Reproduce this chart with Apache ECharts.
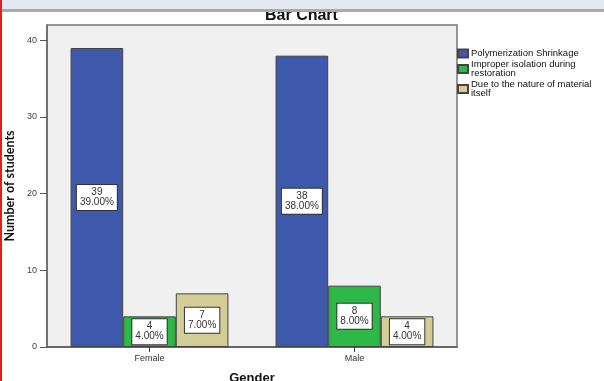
<!DOCTYPE html>
<html>
<head>
<meta charset="utf-8">
<script src="https://cdn.jsdelivr.net/npm/echarts@6/dist/echarts.min.js"></script>
<style>
  html, body { margin: 0; padding: 0; background: #ffffff; }
  #chart { width: 604px; height: 381px; }
</style>
</head>
<body>
<div id="chart"></div>
<script>
// Reasons for restoration failure, counted by gender
const categories = ['Female', 'Male'];
const seriesNames = [
  'Polymerization Shrinkage',
  'Improper isolation during\nrestoration',
  'Due to the nature of material\nitself'
];
const polymerization = [39, 38];
const improperIsolation = [4, 8];
const materialNature = [7, 4];
const yTicks = [0, 10, 20, 30, 40];

const barColors = ['#3e58ac', '#2eb848', '#d3ce97'];
const allValues = [polymerization, improperIsolation, materialNature];
const total = allValues.flat().reduce((a, b) => a + b, 0);

const chart = echarts.init(document.getElementById('chart'), null, { renderer: 'canvas' });

const labelStyle = {
  show: true,
  position: 'inside',
  formatter: p => p.value + '\n' + (p.value / total * 100).toFixed(2) + '%',
  backgroundColor: '#ffffff',
  borderColor: '#333333',
  borderWidth: 1,
  padding: [3, 3, 2, 3],
  color: '#333333',
  fontFamily: 'Arial, Liberation Sans, sans-serif',
  fontSize: 10,
  lineHeight: 10
};

const series = allValues.map((vals, i) => ({
  name: seriesNames[i],
  type: 'bar',
  data: vals,
  barGap: '0%',
  barCategoryGap: '23%',
  itemStyle: { color: barColors[i], borderColor: '#444444', borderWidth: 1 },
  label: labelStyle,
  emphasis: { disabled: true }
}));

chart.setOption({
  animation: false,
  backgroundColor: '#ffffff',
  title: {
    text: 'Bar Chart',
    left: 265,
    top: 8,
    padding: 0,
    textStyle: { fontFamily: 'Arial, Liberation Sans, sans-serif', fontWeight: 'bold', fontSize: 16, color: '#111111' }
  },
  legend: {
    orient: 'vertical',
    left: 457,
    top: 48.5,
    padding: 0,
    itemGap: 1,
    itemWidth: 10,
    itemHeight: 8,
    icon: 'rect',
    selectedMode: false,
    textStyle: { fontFamily: 'Arial, Liberation Sans, sans-serif', fontSize: 9.5, lineHeight: 9, color: '#111111', padding: [0, 0, 0, -2] },
    data: seriesNames
  },
  grid: {
    left: 47, right: 147, top: 25, bottom: 34,
    outerBoundsMode: 'none',
    containLabel: false,
    show: true,
    backgroundColor: '#f0f0f0',
    borderColor: '#777777',
    borderWidth: 1.5
  },
  xAxis: {
    type: 'category',
    data: categories,
    name: 'Gender',
    nameLocation: 'middle',
    nameGap: 25,
    nameTextStyle: { fontFamily: 'Arial, Liberation Sans, sans-serif', fontWeight: 'bold', fontSize: 13, color: '#111111' },
    axisLine: { show: true, lineStyle: { color: '#555555', width: 1.5 } },
    axisTick: { show: true, alignWithLabel: true, length: 5, lineStyle: { color: '#333333' } },
    axisLabel: { fontFamily: 'Arial, Liberation Sans, sans-serif', fontSize: 9, color: '#333333', margin: 7 }
  },
  yAxis: {
    type: 'value',
    min: 0,
    max: 42,
    interval: 10,
    name: 'Number of students',
    nameLocation: 'middle',
    nameGap: 29,
    nameTextStyle: { fontFamily: 'Lato, Open Sans, sans-serif', fontWeight: 'bold', fontSize: 12.5, color: '#111111' },
    axisLine: { show: true, lineStyle: { color: '#666666', width: 1.5 } },
    axisTick: { show: true, length: 7, lineStyle: { color: '#555555' }, customValues: yTicks },
    axisLabel: { fontFamily: 'Arial, Liberation Sans, sans-serif', fontSize: 9, color: '#444444', margin: 10, customValues: yTicks },
    splitLine: { show: false }
  },
  series: series,
  graphic: [
    { type: 'rect', z: 100, shape: { x: 0, y: 0, width: 604, height: 9 }, style: { fill: '#e4e9f1' } },
    { type: 'rect', z: 100, shape: { x: 0, y: 9, width: 604, height: 3 }, style: { fill: '#a8aaad' } },
    { type: 'rect', z: 101, shape: { x: 0, y: 0, width: 2, height: 381 }, style: { fill: '#e02020' } }
  ]
});
</script>
</body>
</html>
